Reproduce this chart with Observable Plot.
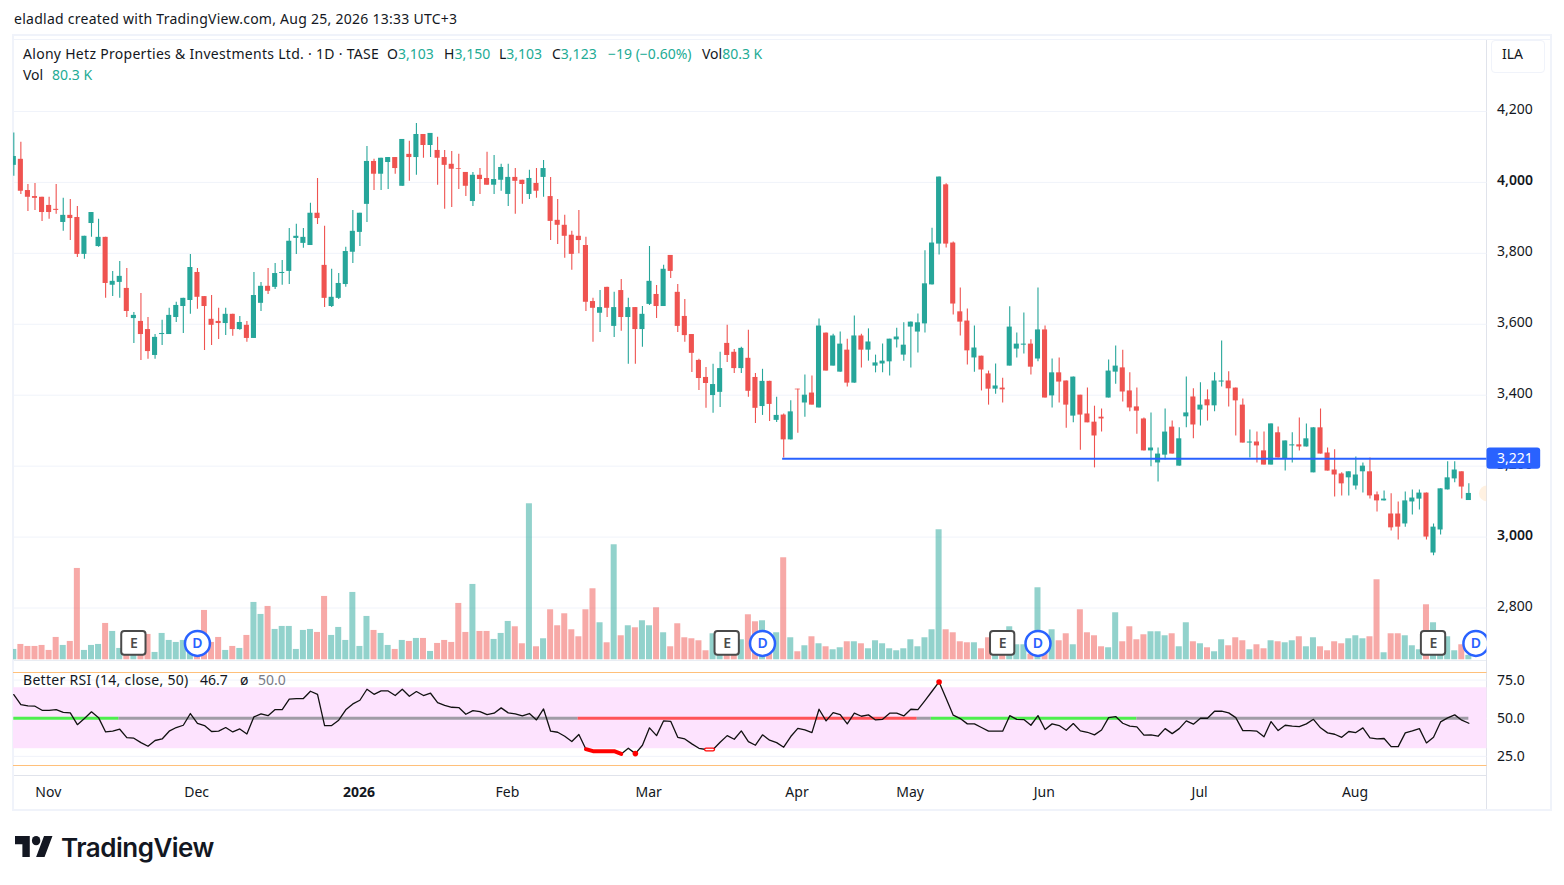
<!DOCTYPE html>
<html>
<head>
<meta charset="utf-8">
<script src="https://cdn.jsdelivr.net/npm/d3@7"></script>
<script src="https://cdn.jsdelivr.net/npm/@observablehq/plot@0.6"></script>
<style>
html,body{margin:0;padding:0;background:#fff}
#page{position:relative;width:1564px;height:885px;overflow:hidden;font-family:"Noto Sans",sans-serif;color:#131722;background:#fff}
#page svg{position:absolute;left:0;background:transparent;overflow:visible}
.t{position:absolute;white-space:nowrap;font-size:14px;line-height:20px}
.g{color:#22ab94}
.box{position:absolute}
</style>
</head>
<body>
<div id="page">
  <div class="box" style="left:12px;top:34px;width:1536px;height:773px;border:2px solid #f0f3fa"></div>
  <div class="box" style="left:13px;top:39px;width:1538px;height:1px;background:#f0f3fa"></div>
  <div class="box" style="left:14px;top:660px;width:1472px;height:1px;background:#e9edf3"></div>
  <div class="box" style="left:14px;top:775px;width:1472px;height:1px;background:#e0e3eb"></div>
  <div class="box" style="left:1486px;top:40px;width:1px;height:769px;background:#e0e3eb"></div>
  <div class="box" style="left:1491px;top:40px;width:52px;height:31px;border:1px solid #f0f3fa;border-radius:4px"></div>
  <div id="plots"></div>
  <div class="t" style="left:14px;top:9px;letter-spacing:.26px" id="hdr">eladlad created with TradingView.com, Aug 25, 2026 13:33 UTC+3</div>
  <div class="t" style="left:23px;top:44px;letter-spacing:.29px" id="name">Alony Hetz Properties &amp; Investments Ltd. · 1D · TASE</div>
  <div class="t" style="left:387px;top:44px">O<span class="g">3,103</span></div>
  <div class="t" style="left:444px;top:44px">H<span class="g">3,150</span></div>
  <div class="t" style="left:499px;top:44px">L<span class="g">3,103</span></div>
  <div class="t" style="left:552px;top:44px">C<span class="g">3,123</span></div>
  <div class="t g" style="left:608px;top:44px">−19 (−0.60%)</div>
  <div class="t" style="left:702px;top:44px">Vol<span class="g">80.3 K</span></div>
  <div class="t" style="left:23px;top:65px">Vol</div>
  <div class="t g" style="left:52px;top:65px">80.3 K</div>
  <div class="t" style="left:23px;top:670px;letter-spacing:.3px">Better RSI (14, close, 50)</div>
  <div class="t" style="left:200px;top:670px">46.7</div>
  <div class="t" style="left:240px;top:670px">ø</div>
  <div class="t" style="left:258px;top:670px;color:#787b86">50.0</div>
  <div class="t" style="left:1502px;top:44px">ILA</div>
  <svg style="left:15px;top:836px" width="38" height="21" viewBox="0 4 36 18" preserveAspectRatio="none"><path fill="#131722" d="M14 22H7V11H0V4h14v18zM28 22h-8l7.5-18h8L28 22z"/><circle fill="#131722" cx="20" cy="8" r="4"/></svg>
  <div class="t" style="left:61px;top:832px;font:600 26px/32px Inter,sans-serif;letter-spacing:-0.5px">TradingView</div>
</div>
<script>
const open_ = [4048,4065,3977,3960,3958,3935,3924,3887,3907,3901,
3797,3884,3819,3845,3710,3718,3701,3616,3608,3585,
3512,3571,3571,3619,3650,3667,3746,3678,3614,3608,
3602,3628,3585,3597,3560,3659,3707,3704,3743,3749,
3842,3828,3822,3913,3766,3650,3673,3712,3803,3859,
3938,4059,4023,4056,4070,3989,4079,4070,4135,4104,
4090,4070,4051,4039,4028,3946,4020,4011,3992,4006,
3966,4014,4006,3966,3997,4014,3960,3893,3879,3851,
3848,3822,3664,3631,3704,3594,3695,3619,3647,3585,
3656,3684,3650,3794,3690,3622,3571,3498,3450,3399,
3408,3546,3521,3475,3504,3450,3368,3439,3329,3344,
3274,3417,3378,3406,3364,3575,3482,3465,3527,3434,
3567,3527,3482,3488,3494,3556,3513,3592,3578,3601,
3711,3826,3993,3829,3635,3609,3505,3510,3460,3417,
3420,3482,3530,3541,3544,3502,3584,3398,3463,3440,
3341,3400,3347,3324,3338,3392,3465,3477,3412,3367,
3333,3243,3209,3231,3310,3200,3339,3395,3358,3387,
3370,3437,3440,3420,3372,3265,3268,3243,3203,3294,
3220,3257,3260,3254,3181,3308,3237,3189,3178,3167,
3144,3184,3184,3119,3102,3065,3065,3037,3099,3107,
3124,2955,3020,3133,3164,3184,3103];
const high = [4139,4113,3994,3997,3958,3958,3994,3955,3952,3932,
3848,3915,3896,3845,3749,3777,3757,3633,3687,3619,
3571,3611,3645,3662,3673,3797,3757,3678,3681,3645,
3645,3628,3622,3608,3746,3718,3757,3771,3780,3870,
3882,3870,3941,4011,3876,3755,3743,3817,3921,3913,
4101,4065,4068,4070,4070,4121,4116,4166,4135,4138,
4127,4090,4087,4079,4028,4028,4039,4085,4076,4051,
4051,4039,4006,4034,4039,4062,4014,3952,3907,3862,
3921,3845,3673,3695,3704,3690,3726,3673,3647,3650,
3819,3709,3766,3794,3712,3670,3571,3501,3478,3487,
3521,3597,3529,3535,3583,3461,3473,3439,3394,3347,
3384,3417,3457,3454,3615,3575,3572,3578,3558,3623,
3572,3587,3513,3544,3558,3589,3604,3606,3629,3807,
3871,4015,3996,3832,3702,3643,3595,3510,3468,3488,
3448,3649,3575,3632,3556,3702,3595,3502,3505,3440,
3451,3400,3420,3369,3361,3499,3539,3527,3463,3420,
3336,3350,3251,3361,3327,3308,3451,3418,3435,3415,
3463,3553,3466,3420,3389,3302,3296,3296,3319,3310,
3271,3294,3336,3319,3308,3361,3251,3246,3181,3184,
3226,3209,3223,3127,3130,3122,3099,3127,3133,3133,
3124,3037,3136,3212,3212,3184,3150];
const low = [4017,3966,3918,3921,3890,3896,3910,3862,3836,3788,
3783,3845,3817,3673,3678,3673,3619,3546,3498,3501,
3501,3540,3571,3605,3574,3628,3642,3526,3540,3557,
3568,3566,3583,3549,3560,3636,3684,3698,3710,3712,
3797,3814,3822,3881,3647,3647,3670,3704,3771,3819,
3887,3977,3977,3980,4023,3989,4003,4020,4068,4070,
3992,3924,3929,3980,3960,3932,3966,3992,3966,3975,
3932,3910,3938,3952,3955,3958,3836,3825,3786,3752,
3799,3636,3549,3577,3619,3563,3580,3487,3487,3535,
3653,3616,3650,3729,3577,3549,3464,3413,3363,3349,
3365,3492,3461,3461,3394,3320,3343,3326,3323,3223,
3274,3293,3338,3372,3364,3468,3482,3465,3423,3434,
3477,3496,3463,3463,3454,3533,3496,3477,3519,3575,
3711,3795,3815,3626,3567,3485,3465,3412,3372,3403,
3378,3482,3505,3516,3457,3494,3392,3364,3378,3307,
3322,3245,3322,3195,3296,3392,3431,3381,3353,3290,
3243,3198,3155,3217,3234,3200,3308,3277,3313,3327,
3353,3423,3367,3285,3265,3223,3209,3203,3203,3223,
3186,3209,3243,3254,3181,3234,3186,3113,3116,3116,
3133,3124,3107,3071,3102,3017,2992,3028,3062,3076,
2992,2947,3006,3133,3153,3107,3103];
const close_ = [4073,3975,3958,3955,3915,3915,3921,3907,3898,3797,
3848,3915,3845,3715,3721,3735,3636,3625,3571,3523,
3563,3574,3625,3653,3673,3760,3676,3650,3597,3602,
3628,3585,3605,3560,3681,3707,3693,3743,3746,3834,
3848,3845,3913,3898,3673,3676,3715,3805,3862,3913,
4059,4023,4068,4070,4039,4121,4070,4135,4104,4138,
4068,4048,4037,4037,3989,4020,4008,3992,4008,4042,
4014,4003,3994,4011,3975,4039,3890,3879,3848,3797,
3836,3662,3645,3647,3645,3647,3619,3647,3585,3628,
3721,3650,3755,3749,3594,3568,3518,3447,3433,3430,
3475,3512,3475,3532,3411,3363,3439,3374,3343,3274,
3353,3415,3400,3372,3595,3468,3567,3544,3434,3567,
3527,3550,3491,3496,3558,3564,3541,3606,3604,3714,
3829,4015,3826,3657,3606,3525,3533,3471,3417,3426,
3415,3592,3544,3544,3479,3584,3392,3463,3437,3372,
3451,3344,3322,3285,3333,3468,3482,3409,3364,3355,
3243,3251,3234,3296,3234,3277,3350,3316,3372,3370,
3440,3440,3418,3384,3265,3268,3257,3203,3319,3223,
3271,3260,3254,3277,3308,3234,3186,3175,3150,3184,
3175,3200,3116,3102,3107,3026,3028,3102,3110,3124,
3000,3028,3136,3167,3189,3141,3123];
const volume = [186,276,240,240,258,168,402,258,330,1644,
168,258,276,654,510,204,288,216,348,456,
132,474,348,312,348,168,108,888,312,402,
168,240,204,438,1032,816,960,546,600,600,
186,528,546,492,1140,438,582,348,1212,240,
780,528,474,258,186,348,330,384,384,150,
294,348,312,1014,492,1356,510,510,366,474,
690,594,288,2808,234,378,900,612,828,540,
414,900,1278,666,306,2070,432,612,576,702,
612,936,486,234,648,396,378,342,162,468,
282,342,222,360,810,684,702,282,486,1836,
396,144,252,414,288,234,180,216,324,324,
288,198,342,288,198,162,198,360,234,396,
540,2340,540,486,324,306,306,198,396,282,
180,594,270,270,102,1296,162,540,342,468,
270,900,486,432,234,216,846,324,594,360,
450,504,504,432,468,234,666,324,288,216,
144,360,252,396,342,180,270,198,342,324,
306,342,414,234,396,234,162,324,288,378,
432,378,414,1440,126,468,468,432,252,180,
990,666,222,414,162,270,80.3];
const rsi = [65.5,59.0,58.1,57.9,55.2,55.2,55.7,53.9,53.5,45.8,
49.8,54.2,50.4,41.0,41.5,42.8,37.3,36.9,34.0,31.6,
35.4,36.4,41.5,43.9,45.4,53.1,46.7,45.2,41.3,41.5,
43.9,41.0,43.0,39.7,50.9,52.8,51.7,55.7,55.7,62.5,
62.9,62.9,67.7,65.7,45.2,45.2,48.7,55.5,59.4,61.8,
69.0,65.7,67.9,67.9,64.9,69.0,64.4,67.5,64.9,66.4,
60.3,58.5,57.2,57.0,52.6,55.0,54.4,52.4,53.3,56.8,
53.5,52.8,51.5,53.1,48.9,56.1,41.5,40.8,38.2,34.7,
39.3,29.7,28.4,28.4,28.4,28.4,26.6,30.3,26.8,32.3,
43.7,38.6,48.3,48.0,37.5,36.4,33.2,30.3,29.5,29.5,
34.3,38.6,36.2,41.7,34.7,32.3,39.1,35.6,34.0,31.0,
38.0,43.4,42.3,40.6,55.9,48.3,53.7,52.4,46.3,53.3,
51.3,52.2,48.9,49.3,53.3,53.3,51.5,55.9,55.7,61.6,
67.7,73.8,62.9,52.0,49.8,46.3,46.3,43.9,41.5,41.5,
41.5,51.7,49.3,49.1,45.4,51.7,42.6,46.3,45.2,42.1,
46.5,41.7,40.8,39.1,42.3,50.4,51.1,46.7,44.8,44.3,
38.9,39.1,38.2,43.2,39.9,43.2,48.3,46.1,50.0,50.0,
54.6,54.6,53.5,50.4,41.9,41.9,41.5,37.8,47.8,41.9,
45.4,44.8,44.5,46.3,49.3,43.7,40.4,39.5,37.5,41.3,
40.6,43.7,37.1,36.4,36.7,31.4,31.4,40.4,41.7,43.2,
33.8,37.5,47.6,50.2,52.2,48.7,46.7];

const priceTicks = [2800,3000,3200,3400,3600,3800,4000,4200];
const strongPriceTicks = [3000,4000];
const levelPrice = 3221, levelStart = 109;
const rsiTicks = [75,50,25];
const rsiBand = [30,70];
const monthIndex = [5,26,70,90,111,127,146,168,190];
const monthLabels = ["Nov","Dec","Feb","Mar","Apr","May","Jun","Jul","Aug"];
const yearIndex = [49], yearLabels = ["2026"];
const earnings = [17,101,140,201], dividends = [26,106,145,207];
const rsiSegments = [
  {from:0,to:14.9,color:"#2ef02e"},{from:14.9,to:79.9,color:"#8f8f96"},
  {from:79.9,to:127.9,color:"#ff3b3b"},{from:127.9,to:129.9,color:"#8f8f96"},
  {from:129.9,to:159,color:"#2ef02e"},{from:159,to:206,color:"#8f8f96"}];
const oversoldRuns = [[81,82,83,84,85,86],[98,99]], hollowRuns = [[98,99]], extremeDots = [88,131];

const UP="#26a69a", DOWN="#ef5350", BLUE="#2962ff", GRID="#f0f3fa", INK="#131722";
const bars = open_.map((o,i)=>({i,o,h:high[i],l:low[i],c:close_[i],v:volume[i],r:rsi[i],col:close_[i]>=o?UP:DOWN}));
const xAxisEnd = 208.57;
const common = {width:1564, marginLeft:13, marginRight:77.5, marginTop:0, x:{domain:[-0.042,xAxisEnd]}};
const host = document.getElementById("plots");
const fmt = d3.format(",");
function add(plot, top){ plot.style.top = top+"px"; host.appendChild(plot); }

add(Plot.plot({...common, height:620, marginBottom:0,
  x:{...common.x, axis:null},
  y:{domain:[2652,4400]},
  style:{background:"transparent",overflow:"visible"},
  marks:[
    Plot.ruleY(priceTicks,{stroke:GRID,strokeWidth:1}),
    Plot.axisY(priceTicks.filter(t=>!strongPriceTicks.includes(t)),{anchor:"right",label:null,tickSize:0,tickPadding:10,tickFormat:fmt,fontSize:14,fill:INK,dy:-1.5}),
    Plot.axisY(strongPriceTicks,{anchor:"right",label:null,tickSize:0,tickPadding:10,tickFormat:fmt,fontSize:14,fontWeight:600,fill:INK,dy:-1.5}),
    Plot.dot([close_[close_.length-1]],{x:xAxisEnd,y:d=>d,r:8,fill:"#ffe6c8",fillOpacity:.55,clip:true}),
    Plot.ruleX(bars,{x:"i",y1:"l",y2:"h",stroke:"col",strokeWidth:1.1,clip:true}),
    Plot.rect(bars,{x1:d=>d.i-.36,x2:d=>d.i+.36,y1:"o",y2:"c",fill:"col",clip:true}),
    Plot.ruleY([levelPrice],{x1:levelStart-.15,x2:xAxisEnd,stroke:BLUE,strokeWidth:2}),
    Plot.rect([levelPrice],{x1:xAxisEnd,x2:xAxisEnd+7.6,y1:d=>d-30,y2:d=>d+30,fill:BLUE,rx:3}),
    Plot.text([levelPrice],{x:xAxisEnd+3.95,y:d=>d,text:fmt,fill:"white",fontSize:14})
  ]}), 40);

add(Plot.plot({...common, height:620, marginBottom:0,
  x:{...common.x, axis:null},
  y:{domain:[-13,11147],axis:null},
  style:{background:"transparent",overflow:"visible"},
  marks:[
    Plot.rect(bars,{x1:d=>d.i-.425,x2:d=>d.i+.425,y1:0,y2:"v",fill:"col",fillOpacity:.5,clip:true}),
    Plot.rect(earnings,{x1:d=>d-1.72,x2:d=>d+1.72,y1:80,y2:510,fill:"white",stroke:"#4a4a4a",strokeWidth:2,rx:3,clip:true}),
    Plot.text(earnings,{x:d=>d,y:295,text:()=>"E",fill:"#4a4a4a",fontSize:14,fontWeight:600,clip:true}),
    Plot.dot(dividends,{x:d=>d,y:295,r:12.5,fill:"white",stroke:BLUE,strokeWidth:2.5,clip:true}),
    Plot.text(dividends,{x:d=>d,y:295,text:()=>"D",fill:BLUE,fontSize:14,fontWeight:600,clip:true})
  ]}), 40);

add(Plot.plot({...common, height:138, marginBottom:45,
  y:{domain:[19,80]},
  style:{background:"transparent",overflow:"visible"},
  marks:[
    Plot.ruleY([80,19],{stroke:"#ffc07a",strokeWidth:1}),
    Plot.ruleY(rsiTicks,{stroke:GRID,strokeWidth:1}),
    Plot.rectY([rsiBand],{x1:-0.042,x2:xAxisEnd,y1:d=>d[0],y2:d=>d[1],fill:"#fde3fe"}),
    Plot.axisY(rsiTicks,{anchor:"right",label:null,tickSize:0,tickPadding:10,tickFormat:d3.format(".1f"),fontSize:14,fill:INK}),
    Plot.axisX(monthIndex,{anchor:"bottom",label:null,tickSize:0,tickPadding:22,tickFormat:(d,i)=>monthLabels[i],fontSize:14,fill:INK,dx:-0.8}),
    Plot.axisX(yearIndex,{anchor:"bottom",label:null,tickSize:0,tickPadding:22,tickFormat:(d,i)=>yearLabels[i],fontSize:14,fontWeight:700,fill:INK,dx:-0.8}),
    Plot.ruleY(rsiSegments,{y:50,x1:"from",x2:"to",stroke:"color",strokeWidth:3,strokeOpacity:.85}),
    Plot.line(bars,{x:"i",y:"r",stroke:"#111",strokeWidth:1.3,curve:"linear"}),
    ...oversoldRuns.map(run=>Plot.line(run,{x:d=>d,y:d=>rsi[d],stroke:"#ff0000",strokeWidth:4})),
    ...hollowRuns.map(run=>Plot.line(run,{x:d=>d,y:d=>rsi[d],stroke:"white",strokeWidth:1.5})),
    Plot.dot(extremeDots,{x:d=>d,y:d=>rsi[d],r:2.8,fill:"#ff0000"})
  ]}), 672.3);
</script>
</body>
</html>
